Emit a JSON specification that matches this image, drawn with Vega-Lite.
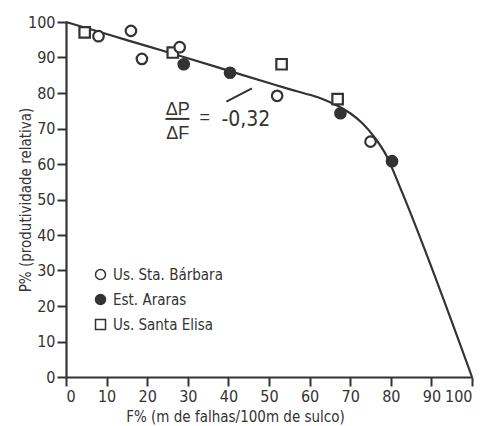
{
  "$schema": "https://vega.github.io/schema/vega-lite/v6.json",
  "width": 406,
  "height": 355,
  "autosize": {"type": "none"},
  "padding": {"left": 66, "top": 22, "right": 12, "bottom": 49},
  "background": "white",
  "config": {
    "view": {"stroke": null},
    "font": "DejaVu Sans Condensed",
    "axis": {
      "domainColor": "#333333",
      "domainWidth": 2.2,
      "tickColor": "#333333",
      "tickWidth": 2,
      "tickSize": 9,
      "grid": false,
      "labelFont": "DejaVu Sans Condensed",
      "labelFontSize": 16,
      "labelColor": "#333333",
      "labelPadding": 2,
      "labelOverlap": false,
      "titleFont": "DejaVu Sans Condensed",
      "titleFontSize": 15,
      "titleFontWeight": "normal",
      "titleColor": "#333333"
    },
    "legend": {
      "orient": "none",
      "legendX": 27,
      "legendY": 245,
      "padding": 0,
      "labelFont": "DejaVu Sans Condensed",
      "labelFontSize": 15,
      "labelColor": "#333333",
      "labelOffset": 5,
      "rowPadding": 8,
      "symbolSize": 100,
      "title": null
    }
  },
  "encoding": {
    "x": {"field": "F", "type": "quantitative",
          "scale": {"domain": [0, 100], "nice": false},
          "axis": {"values": [0, 10, 20, 30, 40, 50, 60, 70, 80, 90, 100], "title": "F% (m de falhas/100m de sulco)",
                   "titleX": 169, "titleY": 44, "titleBaseline": "alphabetic"}},
    "y": {"field": "P", "type": "quantitative",
          "scale": {"domain": [0, 100], "nice": false},
          "axis": {"values": [0, 10, 20, 30, 40, 50, 60, 70, 80, 90, 100], "title": "P% (produtividade relativa)",
                   "titleX": -36, "titleBaseline": "alphabetic"}}
  },
  "layer": [
    {
      "data": {"values": [
        {"F": 0, "P": 100}, {"F": 10, "P": 96.6}, {"F": 20, "P": 93.2}, {"F": 30, "P": 89.8},
        {"F": 40, "P": 86.3}, {"F": 50, "P": 82.8}, {"F": 55, "P": 81.1}, {"F": 60, "P": 79.5},
        {"F": 63, "P": 78.4}, {"F": 66, "P": 76.9}, {"F": 70, "P": 74.3}, {"F": 73, "P": 71.5},
        {"F": 76, "P": 67.5}, {"F": 79, "P": 62.2}, {"F": 82, "P": 54.2}, {"F": 100, "P": 0}
      ]},
      "mark": {"type": "line", "interpolate": "monotone", "stroke": "#333333", "strokeWidth": 2.2}
    },
    {
      "data": {"values": [
        {"F": 8, "P": 96, "site": "Us. Sta. Bárbara"},
        {"F": 16, "P": 97.5, "site": "Us. Sta. Bárbara"},
        {"F": 18.7, "P": 89.6, "site": "Us. Sta. Bárbara"},
        {"F": 52, "P": 79.2, "site": "Us. Sta. Bárbara"},
        {"F": 75, "P": 66.3, "site": "Us. Sta. Bárbara"},
        {"F": 4.6, "P": 97.1, "site": "Us. Santa Elisa"},
        {"F": 26.3, "P": 91.4, "site": "Us. Santa Elisa"},
        {"F": 53.1, "P": 88.1, "site": "Us. Santa Elisa"},
        {"F": 66.9, "P": 78.3, "site": "Us. Santa Elisa"},
        {"F": 28, "P": 92.9, "site": "Us. Sta. Bárbara"},
        {"F": 29, "P": 88.1, "site": "Est. Araras"},
        {"F": 40.4, "P": 85.7, "site": "Est. Araras"},
        {"F": 67.6, "P": 74.3, "site": "Est. Araras"},
        {"F": 80.3, "P": 60.8, "site": "Est. Araras"}
      ]},
      "mark": {"type": "point", "filled": true, "stroke": "#333333", "strokeWidth": 2.2, "size": 110, "opacity": 1},
      "encoding": {
        "shape": {"field": "site", "type": "nominal",
                  "scale": {"domain": ["Us. Sta. Bárbara", "Est. Araras", "Us. Santa Elisa"], "range": ["circle", "circle", "square"]},
                  "legend": {"encode": {"symbols": {"update": {"stroke": {"value": "#333333"}, "strokeWidth": {"value": 2.2}}}}}},
        "fill": {"field": "site", "type": "nominal",
                 "scale": {"domain": ["Us. Sta. Bárbara", "Est. Araras", "Us. Santa Elisa"], "range": ["white", "#333333", "white"]}}
      }
    },
    {
      "data": {"values": [{"F": 39.5, "P": 77.6, "F2": 45.8, "P2": 81.3}, {"F": 24.5, "P": 72.7, "F2": 30.4, "P2": 72.7}]},
      "mark": {"type": "rule", "stroke": "#333333", "strokeWidth": 2},
      "encoding": {
        "x2": {"field": "F2"},
        "y2": {"field": "P2"}
      }
    },
    {
      "data": {"values": [{"F": 27.5, "P": 73.8, "t": "ΔP"}, {"F": 27.5, "P": 67.1, "t": "ΔF"}, {"F": 34.2, "P": 71.5, "t": "="}]},
      "mark": {"type": "text", "font": "Liberation Sans", "fontSize": 18, "fill": "#333333", "align": "center", "baseline": "alphabetic"},
      "encoding": {
        "text": {"field": "t"}
      }
    },
    {
      "data": {"values": [{"F": 38.3, "P": 70.8, "t": "-0,32"}]},
      "mark": {"type": "text", "font": "DejaVu Sans Condensed", "fontSize": 21, "fill": "#333333", "align": "left", "baseline": "alphabetic"},
      "encoding": {
        "text": {"field": "t"}
      }
    }
  ]
}
